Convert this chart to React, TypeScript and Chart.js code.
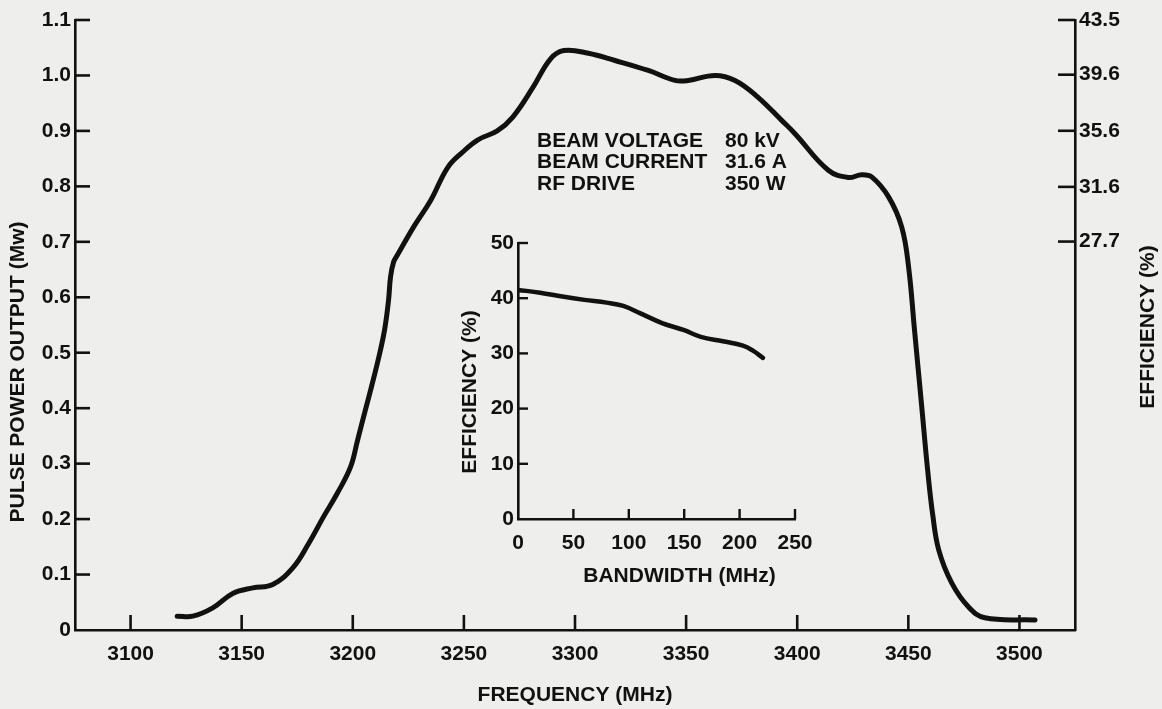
import React, { useEffect, useRef } from "react";
import { Chart, registerables } from "chart.js";

Chart.register(...registerables);

// ---------- data ----------
const frequencyMHz = [
  3121, 3128, 3137, 3146, 3155, 3164, 3173, 3180, 3186.8, 3193.1, 3199, 3202.2, 3205.3, 3208.5, 3211.6, 3214.3,
  3216.1, 3217, 3218.4, 3220.2, 3227.4, 3235.1, 3242.7, 3249.5, 3256.3, 3265, 3272, 3281, 3289, 3295, 3306,
  3318, 3333, 3345, 3351, 3363, 3372, 3382, 3393, 3399, 3414, 3423, 3429, 3433.5, 3441.1, 3447, 3450.1, 3452.8,
  3456, 3458.7, 3461, 3463.7, 3469.5, 3477.2, 3484.4, 3507,
];
const pulsePowerMW = [
  0.025, 0.025, 0.04, 0.066, 0.076, 0.082, 0.112, 0.155, 0.204, 0.247, 0.294, 0.343, 0.391, 0.44, 0.49, 0.541,
  0.595, 0.637, 0.664, 0.677, 0.727, 0.775, 0.834, 0.862, 0.884, 0.9, 0.925, 0.978, 1.03, 1.045, 1.04,
  1.027, 1.009, 0.991, 0.991, 1.0, 0.991, 0.962, 0.919, 0.895, 0.829, 0.816, 0.821, 0.817, 0.781, 0.727, 0.655, 0.54,
  0.404, 0.288, 0.207, 0.144, 0.085, 0.041, 0.022, 0.018,
];
const frequencyTicks = [3100, 3150, 3200, 3250, 3300, 3350, 3400, 3450, 3500];
const powerTicks = [0, 0.1, 0.2, 0.3, 0.4, 0.5, 0.6, 0.7, 0.8, 0.9, 1.0, 1.1];
const efficiencyTicks = [27.7, 31.6, 35.6, 39.6, 43.5];

const bandwidthMHz = [0, 20, 40, 60, 80, 95, 110, 130, 150, 165, 185, 203, 212, 221];
const insetEfficiencyPct = [41.5, 41.0, 40.3, 39.7, 39.2, 38.6, 37.3, 35.5, 34.2, 33.0, 32.2, 31.4, 30.5, 29.2];
const bandwidthTicks = [0, 50, 100, 150, 200, 250];
const insetEfficiencyTicks = [0, 10, 20, 30, 40, 50];

const infoLabels = ["BEAM VOLTAGE", "BEAM CURRENT", "RF DRIVE"];
const infoValues = ["80 kV", "31.6 A", "350 W"];

const mainXTitle = "FREQUENCY (MHz)";
const mainYTitle = "PULSE POWER OUTPUT (Mw)";
const mainY2Title = "EFFICIENCY (%)";
const insetXTitle = "BANDWIDTH (MHz)";
const insetYTitle = "EFFICIENCY (%)";

// ---------- style ----------
const INK = "#111111";
const PAPER = "#eeeeec";
const FONT_FAMILY = "'Liberation Sans', Arial, Helvetica, sans-serif";
const FONT_SIZE = 21;
const FONT = { family: FONT_FAMILY, size: FONT_SIZE, weight: "bold" as const };

type TickSpec = { id: string; side: "left" | "right" | "bottom"; values: number[]; len: number };

function inwardTicksPlugin(specs: TickSpec[], width: number) {
  return {
    id: "inwardTicks",
    afterDraw(chart: any) {
      const ctx = chart.ctx;
      ctx.save();
      ctx.strokeStyle = INK;
      ctx.lineWidth = width;
      ctx.lineCap = "butt";
      for (const s of specs) {
        const scale = chart.scales[s.id];
        for (const v of s.values) {
          const p = scale.getPixelForValue(v);
          ctx.beginPath();
          if (s.side === "left") {
            ctx.moveTo(scale.right, p);
            ctx.lineTo(scale.right + s.len, p);
          } else if (s.side === "right") {
            ctx.moveTo(scale.left, p);
            ctx.lineTo(scale.left - s.len, p);
          } else {
            ctx.moveTo(p, scale.top);
            ctx.lineTo(p, scale.top - s.len);
          }
          ctx.stroke();
        }
      }
      ctx.restore();
    },
  };
}

function drawRotated(ctx: CanvasRenderingContext2D, text: string, x: number, y: number) {
  ctx.save();
  ctx.translate(x, y);
  ctx.rotate(-Math.PI / 2);
  ctx.textAlign = "center";
  ctx.textBaseline = "middle";
  ctx.fillText(text, 0, 0);
  ctx.restore();
}

const mainTextPlugin = {
  id: "mainText",
  afterDraw(chart: any) {
    const { ctx, chartArea } = chart;
    ctx.save();
    ctx.fillStyle = INK;
    ctx.font = `bold ${FONT_SIZE}px ${FONT_FAMILY}`;
    drawRotated(ctx, mainYTitle, chartArea.left - 57, chartArea.bottom - 258);
    drawRotated(ctx, mainY2Title, chartArea.right + 73, chartArea.top + 307);
    ctx.textAlign = "left";
    ctx.textBaseline = "middle";
    infoLabels.forEach((lab, i) => {
      const y = chartArea.top + 121 + i * 21.5;
      ctx.fillText(lab, chartArea.left + 462, y);
      ctx.fillText(infoValues[i], chartArea.left + 650, y);
    });
    ctx.restore();
  },
};

const insetTextPlugin = {
  id: "insetText",
  afterDraw(chart: any) {
    const { ctx, chartArea } = chart;
    ctx.save();
    ctx.fillStyle = INK;
    ctx.font = `bold ${FONT_SIZE}px ${FONT_FAMILY}`;
    drawRotated(ctx, insetYTitle, chartArea.left - 48, (chartArea.top + chartArea.bottom) / 2 + 11);
    ctx.textAlign = "center";
    ctx.textBaseline = "middle";
    ctx.fillText(insetXTitle, (chartArea.left + chartArea.right) / 2 + 23, chartArea.bottom + 57);
    ctx.restore();
  },
};

function fixedBox(size: { width?: number; height?: number }) {
  return (scale: any) => {
    if (size.width !== undefined) scale.width = size.width;
    if (size.height !== undefined) scale.height = size.height;
    scale.paddingLeft = 0;
    scale.paddingRight = 0;
    scale.paddingTop = 0;
    scale.paddingBottom = 0;
  };
}

function setTicks(values: number[]) {
  return (scale: any) => {
    scale.ticks = values.map((v) => ({ value: v }));
  };
}

const axisCommon = {
  grid: { display: true, drawOnChartArea: false, drawTicks: false },
  border: { display: true, color: INK, width: 2.6 },
};

export default function App() {
  const mainRef = useRef<HTMLCanvasElement>(null);
  const insetRef = useRef<HTMLCanvasElement>(null);

  useEffect(() => {
    const mainChart = new Chart(mainRef.current!, {
      type: "line",
      data: {
        datasets: [
          {
            data: frequencyMHz.map((f, i) => ({ x: f, y: pulsePowerMW[i] })),
            borderColor: INK,
            borderWidth: 5,
            borderCapStyle: "round",
            borderJoinStyle: "round",
            pointRadius: 0,
            tension: 0.4,
            fill: false,
            yAxisID: "y",
          },
        ],
      },
      options: {
        responsive: false,
        animation: false,
        events: [],
        layout: { padding: { top: 20, right: 0, bottom: 0, left: 0 } },
        plugins: { legend: { display: false }, tooltip: { enabled: false }, title: { display: false } },
        scales: {
          x: {
            type: "linear",
            position: "bottom",
            min: 3075,
            max: 3525,
            ...axisCommon,
            afterBuildTicks: setTicks(frequencyTicks),
            afterFit: fixedBox({ height: 79 }),
            ticks: {
              autoSkip: false,
              maxRotation: 0,
              color: INK,
              font: FONT,
              padding: 12,
              callback: (v: any) => String(v),
            },
            title: { display: true, text: mainXTitle, color: INK, font: FONT, padding: { top: 0, bottom: 1 } },
          },
          y: {
            type: "linear",
            position: "left",
            min: 0,
            max: 1.1,
            ...axisCommon,
            afterBuildTicks: setTicks(powerTicks),
            afterFit: fixedBox({ width: 75 }),
            ticks: {
              autoSkip: false,
              color: INK,
              font: FONT,
              padding: 4,
              callback: (v: any) => (Number(v) === 0 ? "0" : Number(v).toFixed(1)),
            },
          },
          y2: {
            type: "linear",
            position: "right",
            min: 0,
            max: 43.5,
            ...axisCommon,
            afterBuildTicks: setTicks(efficiencyTicks),
            afterFit: fixedBox({ width: 87 }),
            ticks: {
              autoSkip: false,
              color: INK,
              font: FONT,
              padding: 4,
              callback: (v: any) => Number(v).toFixed(1),
            },
          },
        },
      },
      plugins: [
        inwardTicksPlugin(
          [
            { id: "y", side: "left", values: powerTicks.filter((v) => v > 0), len: 15 },
            { id: "y2", side: "right", values: efficiencyTicks, len: 17 },
            { id: "x", side: "bottom", values: frequencyTicks, len: 15 },
          ],
          2.6
        ),
        mainTextPlugin,
      ],
    } as any);

    const insetChart = new Chart(insetRef.current!, {
      type: "line",
      data: {
        datasets: [
          {
            data: bandwidthMHz.map((b, i) => ({ x: b, y: insetEfficiencyPct[i] })),
            borderColor: INK,
            borderWidth: 4.5,
            borderCapStyle: "round",
            borderJoinStyle: "round",
            pointRadius: 0,
            tension: 0.4,
            fill: false,
          },
        ],
      },
      options: {
        responsive: false,
        animation: false,
        events: [],
        layout: { padding: { top: 18, right: 25, bottom: 0, left: 0 } },
        plugins: { legend: { display: false }, tooltip: { enabled: false }, title: { display: false } },
        scales: {
          x: {
            type: "linear",
            position: "bottom",
            min: 0,
            max: 250,
            ...axisCommon,
            afterBuildTicks: setTicks(bandwidthTicks),
            afterFit: fixedBox({ height: 76 }),
            ticks: { autoSkip: false, maxRotation: 0, color: INK, font: FONT, padding: 12 },
          },
          y: {
            type: "linear",
            position: "left",
            min: 0,
            max: 50,
            ...axisCommon,
            afterBuildTicks: setTicks(insetEfficiencyTicks),
            afterFit: fixedBox({ width: 78 }),
            ticks: { autoSkip: false, color: INK, font: FONT, padding: 4 },
          },
        },
      },
      plugins: [
        inwardTicksPlugin(
          [
            { id: "y", side: "left", values: insetEfficiencyTicks.filter((v) => v > 0), len: 10 },
            { id: "x", side: "bottom", values: bandwidthTicks.filter((v) => v > 0), len: 10 },
          ],
          2.4
        ),
        insetTextPlugin,
      ],
    } as any);

    return () => {
      mainChart.destroy();
      insetChart.destroy();
    };
  }, []);

  return (
    <div
      style={{
        position: "fixed",
        left: 0,
        top: 0,
        width: 1162,
        height: 709,
        background: PAPER,
        overflow: "hidden",
      }}
    >
      <canvas
        ref={mainRef}
        width={1162}
        height={709}
        style={{ position: "absolute", left: 0, top: 0, width: 1162, height: 709, display: "block" }}
      />
      <canvas
        ref={insetRef}
        width={380}
        height={370}
        style={{ position: "absolute", left: 440, top: 225, width: 380, height: 370, display: "block" }}
      />
    </div>
  );
}
